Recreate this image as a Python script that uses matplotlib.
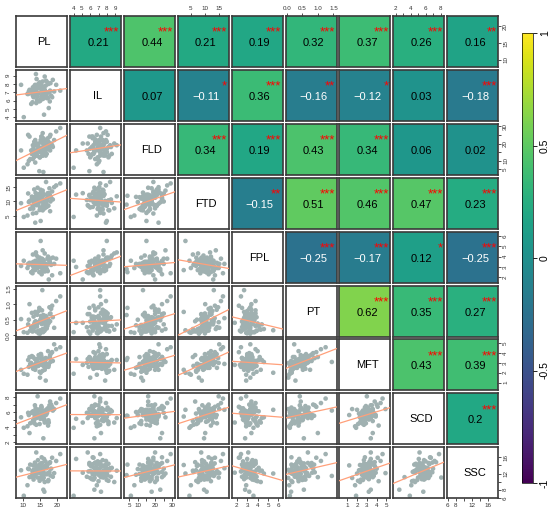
import numpy as np
import matplotlib.pyplot as plt
from matplotlib.cm import ScalarMappable
from matplotlib.colors import Normalize

plt.rcParams['font.family'] = ['Liberation Sans', 'DejaVu Sans']

# ----------------------------------------------------------------------------
# dati (valori stimati a occhio dal grafico)
# ----------------------------------------------------------------------------

VARS = ['PL', 'IL', 'FLD', 'FTD', 'FPL', 'PT', 'MFT', 'SCD', 'SSC']

PL = [15.2, 15.8, 17.9, 13.4, 12.1, 11.3, 18.6, 16.1, 14.0, 15.9,
      19.8, 13.2, 16.7, 14.5, 17.3, 12.6, 16.4, 15.1, 11.7, 16.2,
      18.1, 13.0, 15.5, 21.0, 10.2, 14.6, 17.0, 13.8, 17.8, 14.9,
      16.9, 12.4, 15.4, 14.2, 13.9, 16.6, 17.5, 18.3, 14.1, 13.7,
      16.0, 16.8, 12.8, 15.6, 16.7, 11.9, 17.1, 15.8, 14.4, 15.0,
      16.2, 18.8, 13.3, 18.0, 14.6, 12.9, 13.6, 17.4, 15.4, 16.4,
      13.9, 15.2, 16.0, 11.5, 17.2, 14.3, 15.9, 14.8, 9.4, 19.2,
      15.1, 15.5, 13.1, 12.9, 15.7, 16.3, 13.5, 17.6, 15.3, 13.6]

IL = [7.5, 8.3, 5.9, 7.8, 6.9, 6.8, 6.4, 7.6, 8.6, 6.2,
      7.9, 6.9, 7.0, 8.0, 6.3, 7.3, 8.9, 6.0, 7.1, 4.3,
      8.1, 7.4, 6.5, 7.2, 4.0, 7.7, 6.3, 9.2, 7.0, 8.2,
      6.7, 5.6, 7.1, 7.6, 7.2, 6.9, 8.0, 6.6, 6.1, 7.4,
      6.5, 8.4, 5.8, 6.6, 7.8, 7.3, 6.4, 7.6, 7.5, 6.0,
      7.7, 8.5, 6.7, 7.2, 6.9, 6.6, 7.9, 7.0, 6.2, 7.3,
      5.7, 8.0, 7.6, 6.8, 8.2, 6.5, 7.0, 5.9, 7.9, 7.1,
      7.5, 6.3, 6.4, 7.6, 7.2, 7.3, 6.6, 5.1, 8.0, 7.0]

FLD = [22, 13, 24, 15, 11, 8, 19, 21, 14, 18,
       27, 12, 16, 17, 23, 14, 20, 17, 10, 16,
       25, 17, 15, 29, 6, 20, 14, 19, 18, 12,
       22, 16, 21, 13, 15, 17, 21, 20, 13, 19,
       23, 19, 14, 21, 13, 24, 17, 26, 19, 12,
       15, 18, 21, 16, 18, 11, 22, 17, 24, 14,
       20, 15, 3.5, 25, 18, 16, 20, 4, 16, 22,
       17, 24, 14, 19, 13, 18, 16, 20, 15, 9]

FTD = [14.1, 6.9, 12.3, 10.2, 7.4, 5.1, 13.5, 8.6, 9.5, 10.8,
       15.6, 11.0, 9.0, 8.8, 12.9, 11.7, 7.6, 10.5, 9.8, 12.4,
       10.0, 7.5, 11.4, 16.3, 4.6, 12.6, 8.1, 11.8, 14.6, 7.0,
       9.2, 10.5, 13.4, 11.9, 6.0, 9.7, 8.5, 11.3, 10.9, 13.0,
       9.7, 16.8, 8.4, 12.2, 8.9, 10.1, 11.2, 13.8, 9.0, 7.9,
       12.4, 10.7, 14.2, 6.6, 10.0, 11.5, 2.6, 12.1, 10.9, 9.4,
       8.7, 3.2, 8.9, 12.8, 10.4, 14.8, 8.2, 12.0, 9.4, 15.0,
       7.2, 11.3, 9.8, 5.8, 13.1, 10.6, 9.1, 12.9, 10.0, 11.6]

FPL = [3.4, 3.1, 3.5, 2.8, 3.3, 2.9, 2.2, 3.6, 4.1, 2.7,
       3.8, 3.0, 3.2, 3.9, 2.6, 3.4, 4.3, 2.5, 3.2, 3.0,
       3.8, 2.7, 3.5, 2.4, 3.6, 3.0, 2.8, 4.4, 3.3, 3.9,
       3.1, 2.5, 3.0, 3.4, 3.2, 2.6, 3.7, 3.2, 2.9, 3.6,
       2.8, 3.3, 2.4, 3.8, 2.9, 3.4, 2.7, 4.6, 3.5, 3.3,
       2.6, 3.9, 2.9, 3.4, 3.0, 3.1, 2.7, 4.0, 3.6, 2.6,
       3.1, 5.5, 2.8, 3.3, 3.8, 2.9, 3.7, 2.5, 3.1, 3.3,
       3.6, 2.3, 3.5, 4.2, 2.7, 3.2, 3.5, 1.8, 3.0, 3.3]

PT = [0.82, 0.12, 0.68, 0.38, 0.15, 0.08, 0.95, 0.52, 0.30, 0.56,
      1.10, 0.33, 0.62, 0.14, 0.48, 0.72, 0.18, 0.44, 0.50, 0.40,
      0.70, 0.20, 0.36, 1.25, 0.10, 0.78, 0.22, 0.35, 0.90, 0.15,
      0.58, 0.26, 0.55, 0.66, 0.12, 0.34, 0.50, 0.85, 0.28, 0.45,
      0.55, 0.55, 0.12, 0.80, 0.28, 1.00, 0.35, 0.20, 0.40, 0.05,
      0.48, 0.58, 0.26, 0.45, 0.06, 0.25, 0.75, 0.38, 0.60, 0.18,
      0.68, 0.16, 0.65, 0.35, 0.30, 0.42, 0.10, 0.88, 0.52, 0.24,
      0.50, 0.15, 0.60, 0.20, 1.45, 0.14, 0.42, 0.40, 0.62, 0.32]

MFT = [3.9, 2.2, 3.6, 2.8, 2.9, 1.8, 4.1, 2.7, 3.3, 3.2,
       4.4, 2.5, 3.5, 2.7, 2.9, 3.7, 2.3, 3.5, 2.6, 3.4,
       3.1, 2.4, 3.2, 4.6, 1.9, 3.8, 2.6, 3.3, 3.5, 2.1,
       2.8, 3.0, 3.7, 3.0, 2.7, 3.3, 2.6, 4.0, 3.1, 2.9,
       3.4, 2.9, 2.6, 3.2, 1.2, 3.6, 2.7, 3.1, 2.7, 1.5,
       3.2, 3.2, 2.5, 3.8, 3.0, 3.6, 2.3, 4.2, 2.9, 2.6,
       3.4, 2.0, 3.3, 3.3, 2.7, 3.0, 2.8, 3.5, 2.3, 4.9,
       2.9, 2.8, 2.4, 3.6, 3.1, 3.2, 3.4, 2.8, 3.9, 2.5]

SCD = [5.6, 5.8, 6.4, 5.3, 4.5, 4.1, 6.7, 5.0, 6.1, 5.5,
       7.2, 4.8, 6.0, 5.4, 6.5, 5.9, 4.6, 6.3, 5.6, 5.1,
       6.6, 4.9, 6.0, 7.8, 3.9, 5.5, 6.2, 5.2, 6.9, 4.4,
       5.7, 5.9, 5.6, 6.3, 4.3, 6.0, 4.9, 7.0, 5.6, 6.5,
       2.5, 6.3, 5.9, 5.2, 5.6, 3.2, 5.9, 5.3, 5.8, 6.4,
       5.0, 6.2, 4.5, 7.4, 5.4, 6.1, 5.4, 4.2, 6.8, 5.7,
       5.2, 6.3, 5.5, 5.9, 4.7, 8.1, 6.0, 5.5, 5.3, 6.4,
       5.1, 6.6, 5.8, 4.8, 6.2, 5.7, 6.9, 4.6, 5.4, 6.0]

SSC = [12.2, 12.8, 14.6, 11.3, 14.2, 9.1, 15.9, 11.0, 13.4, 10.6,
       15.1, 13.0, 12.0, 12.9, 14.3, 11.4, 9.9, 12.6, 13.1, 15.6,
       11.5, 14.0, 10.8, 16.8, 6.5, 13.9, 11.8, 12.7, 12.3, 10.2,
       13.6, 11.2, 14.5, 12.1, 12.4, 15.0, 10.4, 13.2, 13.8, 11.9,
       8.0, 13.3, 12.5, 14.6, 14.0, 11.1, 13.5, 12.0, 15.3, 10.9,
       13.7, 11.2, 12.6, 14.8, 12.9, 11.9, 14.1, 10.1, 12.4, 13.6,
       17.2, 12.0, 11.6, 13.2, 14.4, 11.0, 12.3, 14.2, 12.8, 12.1,
       13.9, 16.0, 10.5, 12.7, 11.4, 7.5, 14.7, 12.2, 13.3, 11.7]

DATA = [PL, IL, FLD, FTD, FPL, PT, MFT, SCD, SSC]

# correlazioni del triangolo superiore (riga per riga) e significativita'
R_UPPER = [0.21, 0.44, 0.21, 0.19, 0.32, 0.37, 0.26, 0.16,
           0.07, -0.11, 0.36, -0.16, -0.12, 0.03, -0.18,
           0.34, 0.19, 0.43, 0.34, 0.06, 0.02,
           -0.15, 0.51, 0.46, 0.47, 0.23,
           -0.25, -0.17, 0.12, -0.25,
           0.62, 0.35, 0.27,
           0.43, 0.39,
           0.2]
STARS_UPPER = ['***', '***', '***', '***', '***', '***', '***', '**',
               '', '*', '***', '**', '*', '', '***',
               '***', '***', '***', '***', '', '',
               '**', '***', '***', '***', '***',
               '***', '***', '*', '***',
               '***', '***', '***',
               '***', '***',
               '***']

# assi: limiti e tacche per variabile
LIMS = [(7.9, 23.0), (3.55, 9.7), (1.9, 31.4), (0.5, 18.3), (1.5, 6.4),
        (-0.04, 1.6), (0.2, 5.4), (1.7, 8.5), (5.9, 18.5)]
TICKS = [[10, 15, 20], [4, 5, 6, 7, 8, 9], [5, 10, 15, 20, 25, 30], [5, 10, 15],
         [2, 3, 4, 5, 6], [0.0, 0.5, 1.0, 1.5], [1, 2, 3, 4, 5],
         [2, 3, 4, 5, 6, 7, 8], [6, 8, 10, 12, 14, 16]]
TICKLABELS = [['10', '15', '20'], ['4', '5', '6', '7', '8', '9'],
              ['5', '10', '', '20', '', '30'], ['5', '10', '15'],
              ['2', '3', '4', '5', '6'], ['0.0', '0.5', '1.0', '1.5'],
              ['1', '2', '3', '4', '5'], ['2', '', '4', '', '6', '', '8'],
              ['6', '8', '', '12', '', '16']]

# ----------------------------------------------------------------------------
# grafico
# ----------------------------------------------------------------------------

W, H = 550, 513
fig = plt.figure(figsize=(W / 100, H / 100), dpi=100)
cmap = plt.get_cmap('viridis')
norm = Normalize(-1, 1)

X0, Y0, STEP, SIZE = 16, 16, 53.9, 51


def add_px(left, top, w, h):
    return fig.add_axes([left / W, 1 - (top + h) / H, w / W, h / H])


upper = {}
k = 0
for i in range(9):
    for j in range(i + 1, 9):
        upper[(i, j)] = (R_UPPER[k], STARS_UPPER[k])
        k += 1

for row in range(9):
    for col in range(9):
        ax = add_px(X0 + col * STEP, Y0 + row * STEP, SIZE, SIZE)
        ax.set_xlim(LIMS[col])
        ax.set_ylim(LIMS[row])
        ax.set_xticks([])
        ax.set_yticks([])
        for s in ax.spines.values():
            s.set_color('#3a3a3a')
            s.set_linewidth(1.2)

        if row == col:
            ax.text(0.55, 0.49, VARS[row], transform=ax.transAxes,
                    ha='center', va='center', fontsize=8)
        elif col > row:
            r, st = upper[(row, col)]
            ax.set_facecolor(cmap(norm(r)))
            label = ('%g' % r).replace('-', '\u2212')
            ax.text(0.55, 0.47, label, transform=ax.transAxes, ha='center',
                    va='center', fontsize=8,
                    color='white' if r < 0 else 'black')
            if st:
                ax.text(0.97, 0.61, st, transform=ax.transAxes, ha='right',
                        va='baseline', fontsize=9.5, color='red')
        else:
            x = np.array(DATA[col], dtype=float)
            y = np.array(DATA[row], dtype=float)
            ax.scatter(x, y, s=11, color='#a0b1b1', edgecolors='none', zorder=2)
            b, a = np.polyfit(x, y, 1)
            xs = np.array(LIMS[col])
            ax.plot(xs, a + b * xs, color='#ffa07a', lw=0.9, zorder=3)

        # assi in stile pairs() di R, alternati
        if row == 0 and col % 2 == 1:
            ax.xaxis.tick_top()
            ax.set_xticks(TICKS[col], TICKLABELS[col])
        if row == 8 and col % 2 == 0:
            ax.set_xticks(TICKS[col], TICKLABELS[col])
        if col == 0 and row % 2 == 1:
            ax.set_yticks(TICKS[row], TICKLABELS[row], rotation=90, va='center')
        if col == 8 and row % 2 == 0:
            ax.yaxis.tick_right()
            ax.set_yticks(TICKS[row], TICKLABELS[row], rotation=90, va='center')
        ax.tick_params(length=2.5, width=0.6, labelsize=4.5, pad=1,
                       colors='#333333')

# barra dei colori
cax = add_px(522, 33, 11, 450)
cb = fig.colorbar(ScalarMappable(norm=norm, cmap=cmap), cax=cax)
cb.set_ticks([-1, -0.5, 0, 0.5, 1], labels=['-1', '-0.5', '0', '0.5', '1'])
cax.tick_params(labelsize=7.5, length=3, width=0.6, pad=2)
for lab in cax.get_yticklabels():
    lab.set_rotation(90)
    lab.set_va('center')
cb.outline.set_linewidth(0.5)

fig.savefig('out.png', dpi=100)
